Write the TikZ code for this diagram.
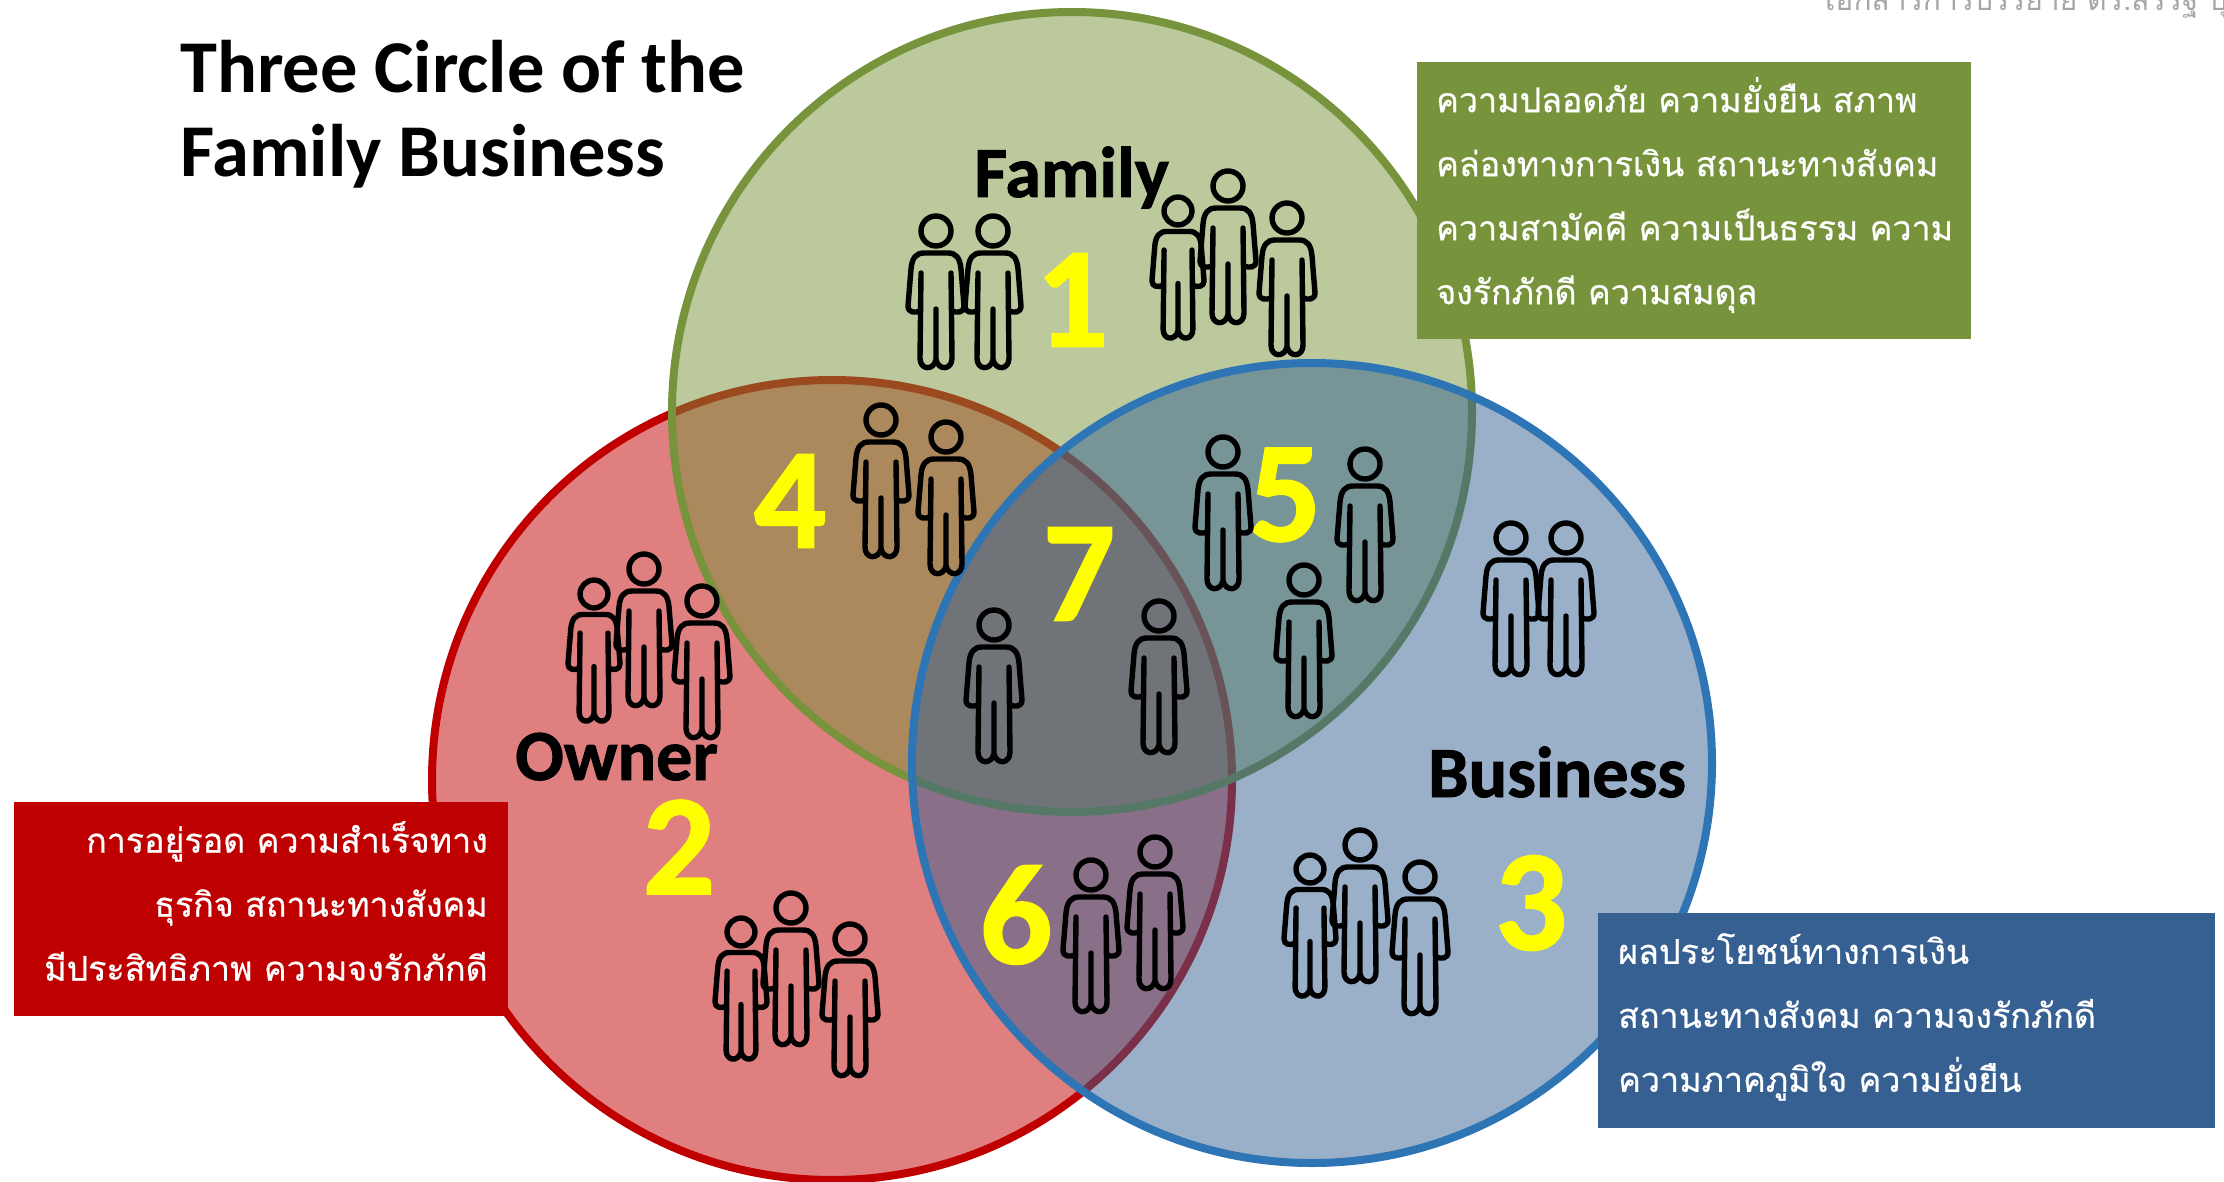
\documentclass[tikz,border=0pt]{standalone}
\usepackage{fontspec}
\setmainfont{Carlito}
\newfontfamily\thaifont[Script=Thai,FakeBold=0.6]{Loma}
\newfontfamily\hdrfont[Script=Thai]{Loma}
\newfontfamily\labfont[FakeBold=1.3]{Carlito Bold}
\newfontfamily\numfont[FakeBold=1.3]{Carlito Bold}
\definecolor{famc}{HTML}{77933C}
\definecolor{ownc}{HTML}{C00000}
\definecolor{busc}{HTML}{2E75B6}
\definecolor{busf}{HTML}{366092}
\definecolor{redbox}{HTML}{BE0000}
\definecolor{numy}{HTML}{FFFF00}
\tikzset{
  venn/.style={line width=8pt,fill opacity=0.5,draw opacity=1},
  thai/.style={text=white,inner sep=0pt,font=\thaifont\fontsize{34}{64}\selectfont},
  num/.style={text=numy,inner sep=0pt,font=\numfont\fontsize{143}{143}\selectfont},
  lab/.style={text=black,inner sep=0pt,anchor=base west,font=\labfont\fontsize{72}{72}\selectfont},
  ttl/.style={inner sep=0pt,anchor=base west,font=\bfseries\fontsize{74.5}{84}\selectfont},
  personline/.style={line width=5.4pt,line cap=round,line join=round,draw=black},
  person/.pic={
    \draw[personline] (0,0) circle[radius=15pt];
    \draw[personline] (-15,42) -- (-16,127) .. controls (-16,139) and (-3,140) .. (0,129) -- (0,78);
    \draw[personline] (15,42) -- (16,127) .. controls (16,139) and (3,140) .. (0,129);
    \draw[personline] (-16,80) .. controls (-21,82) and (-28,82) .. (-28,75) -- (-25,38)
       .. controls (-24,27) and (-20,22) .. (-12,22) -- (12,22)
       .. controls (20,22) and (24,27) .. (25,38) -- (28,75)
       .. controls (28,82) and (21,82) .. (16,80);
  }
}
\begin{document}
\begin{tikzpicture}[x=1pt,y=-1pt]
\useasboundingbox (0,0) rectangle (2224,1182);
% circles: red below green below blue
\draw[venn,draw=ownc,fill=ownc] (832,780) circle[radius=400pt];
\draw[venn,draw=famc,fill=famc] (1072,412) circle[radius=400pt];
\draw[venn,draw=busc,fill=busf] (1312,763) circle[radius=400pt];
% info boxes
\fill[famc] (1417,62) rectangle (1971,339);
\fill[redbox] (14,802) rectangle (508,1016);
\fill[busf] (1598,913) rectangle (2215,1128);
% info texts
\node[thai,align=left,anchor=north west] (famtext) at (1436,77) {ความปลอดภัย ความยั่งยืน สภาพ\\คล่องทางการเงิน สถานะทางสังคม\\ความสามัคคี ความเป็นธรรม ความ\\จงรักภักดี ความสมดุล};
\node[thai,align=right,anchor=north east] (owntext) at (488,821) {การอยู่รอด ความสำเร็จทาง\\ธุรกิจ สถานะทางสังคม\\มีประสิทธิภาพ ความจงรักภักดี};
\node[thai,align=left,anchor=north west] (bustext) at (1618,933) {ผลประโยชน์ทางการเงิน\\สถานะทางสังคม ความจงรักภักดี\\ความภาคภูมิใจ ความยั่งยืน};
% title
\node[ttl] (title) at (180,93) {Three Circle of the};
\node[ttl] (title2) at (180,177) {Family Business};
% circle labels
\node[lab] (lfam) at (974,197) {Family};
\node[lab] (lown) at (515,780) {Owner};
\node[lab] (lbus) at (1428,797) {Business};
% numbers
\node[num] (n1) at (1072,300) {1};
\node[num] (n2) at (679,847) {2};
\node[num] (n3) at (1531,903) {3};
\node[num] (n4) at (790,501) {4};
\node[num] (n5) at (1285,495) {5};
\node[num] (n6) at (1016,915) {6};
\node[num] (n7) at (1079,574) {7};
% people
\foreach \px/\py/\ps in {936/231/1,993/231/1,1178/211/.93,1228/186/1,1287/218/1,
  881/420/1,946/437/1,
  1223/452/1,1365/464/1,1304/580/1,
  1091/875/1,1155/852/1,
  994/625/1,1159/616/1,
  1511/538/1,1566/538/1,
  594/594/.93,644/569/1,702/601/1,
  741/932/.93,791/908/1,850/939/1,
  1310/869/.93,1360/845/1,1420/877/1}
  \pic[scale=\ps] at (\px,\py) {person};
% cropped header
\begin{scope}
\clip (0,0) rectangle (2224,1182);
\node[inner sep=0pt,anchor=base west,text=gray!70,font=\hdrfont\fontsize{30}{30}\selectfont] (hdr) at (1825,11) {เอกสารการบรรยาย ดร.สรรฐ บุ};
\end{scope}
\end{tikzpicture}
\end{document}
